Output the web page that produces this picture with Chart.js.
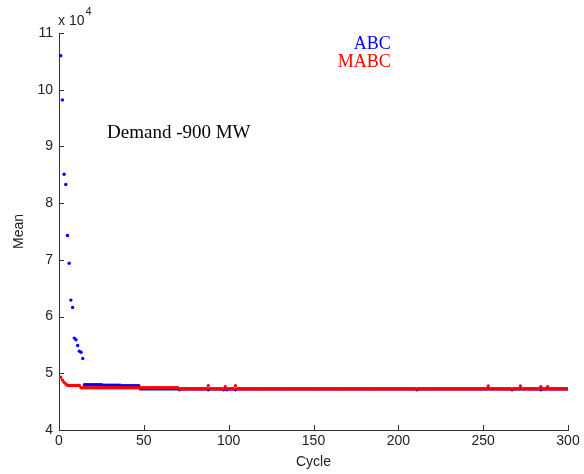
<!DOCTYPE html>
<html><head><meta charset="utf-8">
<script src="https://cdn.jsdelivr.net/npm/chart.js@4/dist/chart.umd.min.js"></script>
<style>html,body{margin:0;padding:0;background:#fff;}</style>
</head><body><canvas id="c" width="584" height="474"></canvas>
<script>
// Mean values in units of 10^4, cycles 1..300
const abc = [
10.60,9.82,8.51,8.33,7.43,6.94,6.29,6.16,5.62,5.59,
5.49,5.39,5.37,5.26,4.80,4.80,4.80,4.80,4.80,4.80,
4.80,4.80,4.80,4.80,4.80,4.79,4.79,4.79,4.79,4.79,
4.79,4.79,4.79,4.79,4.79,4.79,4.78,4.78,4.78,4.78,
4.78,4.78,4.78,4.78,4.78,4.78,4.78,4.725,4.725,4.725,
4.725,4.725,4.725,4.725,4.725,4.725,4.725,4.725,4.725,4.725,
4.725,4.725,4.725,4.725,4.725,4.725,4.725,4.725,4.725,4.725,
4.71,4.725,4.725,4.725,4.725,4.725,4.725,4.725,4.725,4.725,
4.725,4.725,4.725,4.725,4.725,4.725,4.725,4.71,4.725,4.725,
4.725,4.725,4.725,4.725,4.725,4.725,4.71,4.725,4.71,4.725,
4.725,4.725,4.725,4.71,4.725,4.725,4.725,4.725,4.725,4.725,
4.725,4.725,4.725,4.725,4.725,4.725,4.725,4.725,4.725,4.725,
4.725,4.725,4.725,4.725,4.725,4.725,4.725,4.725,4.725,4.725,
4.725,4.725,4.725,4.725,4.725,4.725,4.725,4.725,4.725,4.725,
4.725,4.725,4.725,4.725,4.725,4.725,4.725,4.725,4.725,4.725,
4.725,4.725,4.725,4.725,4.725,4.725,4.725,4.725,4.725,4.725,
4.725,4.725,4.725,4.725,4.725,4.725,4.725,4.725,4.725,4.725,
4.725,4.725,4.725,4.725,4.725,4.725,4.725,4.725,4.725,4.725,
4.725,4.725,4.725,4.725,4.725,4.725,4.725,4.725,4.725,4.725,
4.725,4.725,4.725,4.725,4.725,4.725,4.725,4.725,4.725,4.725,
4.725,4.725,4.725,4.725,4.725,4.725,4.725,4.725,4.725,4.725,
4.71,4.725,4.725,4.725,4.725,4.725,4.725,4.725,4.725,4.725,
4.725,4.725,4.725,4.725,4.725,4.725,4.725,4.725,4.725,4.725,
4.725,4.725,4.725,4.725,4.725,4.725,4.725,4.725,4.725,4.725,
4.725,4.725,4.725,4.725,4.725,4.725,4.725,4.725,4.725,4.725,
4.725,4.725,4.725,4.725,4.725,4.725,4.725,4.725,4.725,4.725,
4.725,4.725,4.725,4.725,4.725,4.725,4.71,4.725,4.725,4.725,
4.725,4.725,4.725,4.725,4.725,4.725,4.725,4.725,4.725,4.725,
4.725,4.725,4.725,4.71,4.725,4.725,4.725,4.725,4.725,4.725,
4.725,4.725,4.725,4.725,4.725,4.725,4.725,4.725,4.725,4.725
];
const mabc = [
4.93,4.88,4.84,4.81,4.79,4.785,4.785,4.785,4.785,4.785,
4.785,4.785,4.745,4.745,4.745,4.745,4.745,4.745,4.745,4.745,
4.745,4.745,4.745,4.745,4.745,4.745,4.745,4.745,4.745,4.745,
4.745,4.745,4.745,4.745,4.745,4.745,4.745,4.745,4.745,4.745,
4.745,4.745,4.745,4.745,4.745,4.745,4.745,4.745,4.745,4.745,
4.745,4.745,4.745,4.745,4.745,4.745,4.745,4.745,4.745,4.745,
4.745,4.745,4.745,4.745,4.745,4.745,4.745,4.745,4.745,4.745,
4.725,4.725,4.725,4.725,4.725,4.725,4.725,4.725,4.725,4.725,
4.725,4.725,4.725,4.725,4.725,4.725,4.725,4.78,4.725,4.725,
4.725,4.725,4.725,4.725,4.725,4.725,4.725,4.765,4.725,4.725,
4.725,4.725,4.725,4.78,4.725,4.725,4.725,4.725,4.725,4.725,
4.725,4.725,4.725,4.725,4.725,4.725,4.725,4.725,4.725,4.725,
4.725,4.725,4.725,4.725,4.725,4.725,4.725,4.725,4.725,4.725,
4.725,4.725,4.725,4.725,4.725,4.725,4.725,4.725,4.725,4.725,
4.725,4.725,4.725,4.725,4.725,4.725,4.725,4.725,4.725,4.725,
4.725,4.725,4.725,4.725,4.725,4.725,4.725,4.725,4.725,4.725,
4.725,4.725,4.725,4.725,4.725,4.725,4.725,4.725,4.725,4.725,
4.725,4.725,4.725,4.725,4.725,4.725,4.725,4.725,4.725,4.725,
4.725,4.725,4.725,4.725,4.725,4.725,4.725,4.725,4.725,4.725,
4.725,4.725,4.725,4.725,4.725,4.725,4.725,4.725,4.725,4.725,
4.725,4.725,4.725,4.725,4.725,4.725,4.725,4.725,4.725,4.725,
4.725,4.725,4.725,4.725,4.725,4.725,4.725,4.725,4.725,4.725,
4.725,4.725,4.725,4.725,4.725,4.725,4.725,4.725,4.725,4.725,
4.725,4.725,4.725,4.725,4.725,4.725,4.725,4.725,4.725,4.725,
4.725,4.725,4.725,4.725,4.725,4.725,4.725,4.725,4.725,4.725,
4.725,4.725,4.775,4.725,4.725,4.725,4.725,4.725,4.725,4.725,
4.725,4.725,4.725,4.725,4.725,4.725,4.725,4.725,4.725,4.725,
4.725,4.775,4.725,4.725,4.725,4.725,4.725,4.725,4.725,4.725,
4.725,4.725,4.725,4.765,4.725,4.725,4.725,4.765,4.725,4.725,
4.725,4.725,4.725,4.725,4.725,4.725,4.725,4.725,4.725,4.725
];
const xTicks = [0,50,100,150,200,250,300];
const yTicks = [4,5,6,7,8,9,10,11];
const seriesNames = ['ABC','MABC'];
const annotationText = 'Demand -900 MW';

const cycles = abc.map((_, i) => i + 1);
const toPts = arr => arr.map((v, i) => ({x: cycles[i], y: v}));

const AX = '#333333';
const tickFont = {family: '"Liberation Sans", Arial, sans-serif', size: 14};

const extras = {
  id: 'extras',
  afterDraw(chart) {
    const {ctx, chartArea: ca, scales: {x, y}} = chart;
    ctx.save();
    // inward tick marks
    ctx.strokeStyle = AX; ctx.lineWidth = 1;
    ctx.beginPath();
    xTicks.forEach(v => { const px = Math.round(x.getPixelForValue(v)) + 0.5; ctx.moveTo(px, ca.bottom); ctx.lineTo(px, ca.bottom - 5); });
    yTicks.forEach(v => { const py = Math.round(y.getPixelForValue(v)) + 0.5; ctx.moveTo(ca.left, py); ctx.lineTo(ca.left + 5, py); });
    ctx.stroke();
    // exponent label
    ctx.fillStyle = '#222';
    ctx.textBaseline = 'alphabetic';
    ctx.textAlign = 'left';
    ctx.font = '14px "Liberation Sans", Arial, sans-serif';
    const base = 'x 10';
    ctx.fillText(base, ca.left - 1, ca.top - 8);
    const w = ctx.measureText(base).width;
    ctx.font = '11px "Liberation Sans", Arial, sans-serif';
    ctx.fillText('4', ca.left - 1 + w + 1, ca.top - 18);
    // legend texts (anchored in data coordinates)
    ctx.font = '18px "Liberation Serif", "Times New Roman", serif';
    ctx.textAlign = 'right';
    ctx.fillStyle = '#0000ff';
    ctx.fillText(seriesNames[0], x.getPixelForValue(195.5), y.getPixelForValue(10.72));
    ctx.fillStyle = '#ff0000';
    ctx.fillText(seriesNames[1], x.getPixelForValue(195.5), y.getPixelForValue(10.40));
    // annotation
    ctx.textAlign = 'left';
    ctx.fillStyle = '#000';
    ctx.font = '19px "Liberation Serif", "Times New Roman", serif';
    ctx.fillText(annotationText, x.getPixelForValue(28.3), y.getPixelForValue(9.15));
    ctx.restore();
  }
};

new Chart(document.getElementById('c'), {
  type: 'scatter',
  data: {
    datasets: [
      {label: seriesNames[1], data: toPts(mabc), backgroundColor: '#ff0000', borderWidth: 0, pointRadius: 1.7, pointStyle: 'circle', order: 0},
      {label: seriesNames[0], data: toPts(abc), backgroundColor: '#0000ff', borderWidth: 0, pointRadius: 1.7, pointStyle: 'circle', order: 1}
    ]
  },
  options: {
    responsive: false,
    animation: false,
    devicePixelRatio: 1,
    layout: {padding: {top: 33, right: 16, left: 0, bottom: 0}},
    plugins: {legend: {display: false}, tooltip: {enabled: false}},
    scales: {
      x: {
        type: 'linear', min: 0, max: 300,
        afterBuildTicks: s => { s.ticks = xTicks.map(v => ({value: v})); },
        afterFit: s => { s.height = 44; },
        grid: {display: false, drawTicks: false},
        border: {display: true, color: AX, width: 1},
        ticks: {font: tickFont, color: '#222', padding: 3, maxRotation: 0, autoSkip: false},
        title: {display: true, text: 'Cycle', font: tickFont, color: '#222', padding: {top: 0, bottom: 3}}
      },
      y: {
        type: 'linear', min: 4, max: 11,
        afterBuildTicks: s => { s.ticks = yTicks.map(v => ({value: v})); },
        afterFit: s => { s.width = 59; },
        grid: {display: false, drawTicks: false},
        border: {display: true, color: AX, width: 1},
        ticks: {font: tickFont, color: '#222', padding: 6, autoSkip: false},
        title: {display: true, text: 'Mean', font: tickFont, color: '#222', padding: {top: 11, bottom: 0}}
      }
    }
  },
  plugins: [extras]
});
</script>
</body></html>
